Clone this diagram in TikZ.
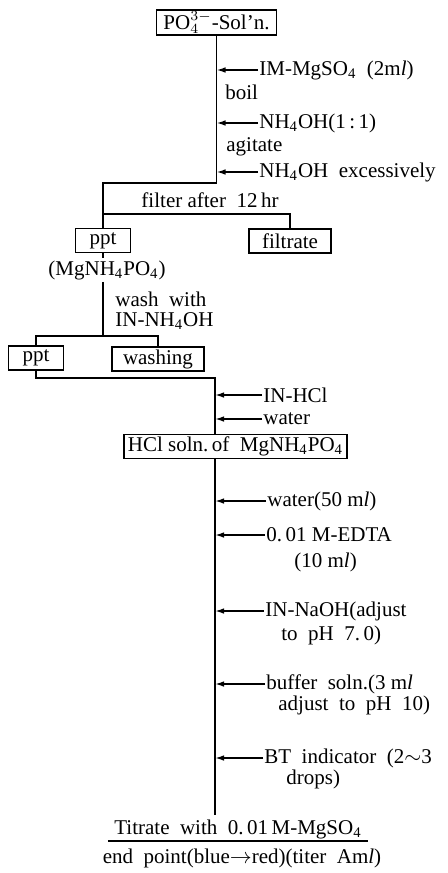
\documentclass[tikz,border=0pt]{standalone}
\usepackage{fontspec}
\setmainfont{Liberation Serif}
\usetikzlibrary{arrows.meta}
\begin{document}
\begin{tikzpicture}[x=0.5pt, y=-0.5pt, every node/.style={font=\fontsize{10.5}{12}\selectfont, inner sep=1pt},
  box/.style={draw, line width=0.8pt, minimum height=12pt, inner xsep=2pt, inner ysep=0pt},
  lbl/.style={anchor=west, inner sep=0.5pt},
  flow/.style={line width=0.9pt},
  feed/.style={line width=0.8pt, -{Latex[length=4.5pt, width=2.8pt]}}]
  \useasboundingbox (0,0) rectangle (447,873);
  % Precipitation
  \node[box, minimum width=60pt, minimum height=12.5pt] (soln) at (216.5,22.5) {PO$_4^{3-}$-Sol'n.};
  \node[lbl] (mgso) at (258,70) {IM-MgSO\textsubscript{4}\ \ (2m\textit{l})};
  \node[lbl] (boil) at (224,92) {boil};
  \node[lbl] (nh1) at (258,123) {NH\textsubscript{4}OH(1\,:\,1)};
  \node[lbl] (agit) at (225,147) {agitate};
  \node[lbl] (nh2) at (258,172) {NH\textsubscript{4}OH\ \ excessively};
  \coordinate (bend1) at (216.5,183);
  \coordinate (fsplit) at (103,214);
  \node (filt) at (210,200) {filter after\ \ 12\,hr};
  \node[box, minimum width=27.5pt] (ppt1) at (103,240.5) {ppt};
  \node[box, minimum width=41pt] (filtr) at (290,241) {filtrate};
  \draw[flow] (soln) -- (bend1) -| (ppt1);
  \draw[flow] (fsplit) -| (filtr);
  \foreach \n in {mgso,nh1,nh2}
    \draw[feed] (\n.west) -- (\n.west -| soln.south);
  % Washing
  \node (mgp) at (107,270) {(MgNH\textsubscript{4}PO\textsubscript{4})};
  \node[lbl] (wash1) at (114,299) {wash\ \ with};
  \node[lbl] (wash2) at (114,321) {IN-NH\textsubscript{4}OH};
  \coordinate (wsplit) at (103,336);
  \node[box, minimum width=27.5pt] (ppt2) at (36,358) {ppt};
  \node[box, minimum width=46pt] (washg) at (158,359) {washing};
  \draw[flow] (ppt1) -- (ppt1 |- mgp.north);
  \draw[flow] (ppt1 |- mgp.south) -- (wsplit);
  \draw[flow] (ppt2) |- (wsplit) -| (washg);
  % Dissolution
  \coordinate (bend2) at (215,378);
  \node[lbl] (hcl1) at (262,395) {IN-HCl};
  \node[lbl] (wat1) at (262,419) {water};
  \node[box, minimum width=105.5pt] (hcl) at (235.5,446.5) {HCl soln.\,of\ \ MgNH\textsubscript{4}PO\textsubscript{4}};
  \draw[flow] (ppt2) |- (bend2) -- (bend2 |- hcl.north);
  \foreach \n in {hcl1,wat1}
    \draw[feed] (\n.west) -- (\n.west -| bend2);
  % Titration
  \coordinate (stop) at (215,815);
  \node[lbl] (wat2) at (266,501) {water(50 m\textit{l})};
  \node[lbl] (edta) at (265,535) {0.\,01 M-EDTA};
  \node[lbl] (edta2) at (293,562) {(10 m\textit{l})};
  \node[lbl] (naoh) at (264,611) {IN-NaOH(adjust};
  \node[lbl] (naoh2) at (280,635) {to\ \ pH\ \ 7.\,0)};
  \node[lbl] (buf) at (265,684) {buffer\ \ soln.(3 m\textit{l}};
  \node[lbl] (buf2) at (277,705) {adjust\ \ to\ \ pH\ \ 10)};
  \node[lbl] (bt) at (263,758) {BT\ \ indicator\ \ (2$\sim$3};
  \node[lbl] (bt2) at (285,779) {drops)};
  \draw[flow] (bend2 |- hcl.south) -- (stop);
  \foreach \n in {wat2,edta,naoh,buf,bt}
    \draw[feed] (\n.west) -- (\n.west -| stop);
  \node (titr) at (238,829) {Titrate\ \ with\ \ 0.\,01\,M-MgSO\textsubscript{4}};
  \node (endp) at (242,858) {end\ \ point(blue$\rightarrow$red)(titer\ \ Am\textit{l})};
  \draw[line width=0.8pt] ([xshift=-2pt]titr.south west) -- ([xshift=2pt]titr.south east);
\end{tikzpicture}
\end{document}
